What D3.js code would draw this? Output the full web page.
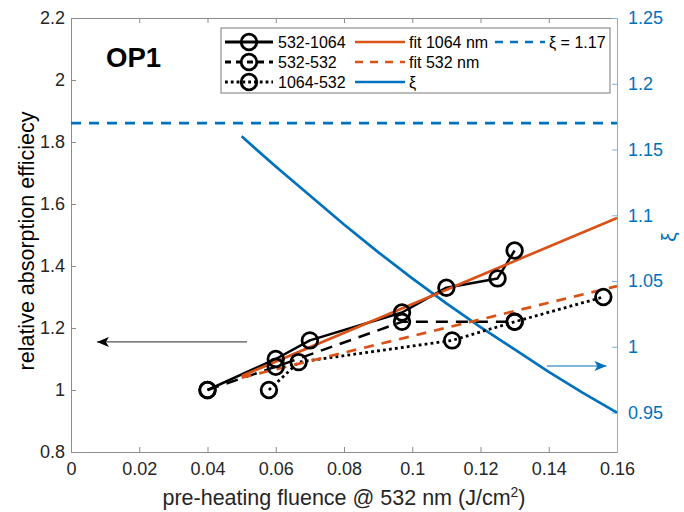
<!DOCTYPE html>
<html><head><meta charset="utf-8">
<script src="https://cdn.jsdelivr.net/npm/d3@7"></script>
<style>body{margin:0;background:#fff}svg{display:block;font-family:"Liberation Sans",Arial,sans-serif}</style>
</head><body><svg id="c" width="684" height="512"></svg>
<script>
// ---- data ----
const s1064x = [0.04, 0.06, 0.07, 0.097, 0.11, 0.125, 0.13];
const s1064y = [1.0, 1.1, 1.16, 1.25, 1.33, 1.36, 1.45];
const s532x = [0.04, 0.06, 0.097, 0.13];
const s532y = [1.0, 1.075, 1.22, 1.22];
const s1064_532x = [0.058, 0.0667, 0.1117, 0.13, 0.156];
const s1064_532y = [1.0, 1.09, 1.16, 1.22, 1.30];
const fit1064x = [0.05, 0.16];
const fit1064y = [1.045, 1.555];
const fit532x = [0.05, 0.16];
const fit532y = [1.04, 1.335];
const xiX = [0.05, 0.06, 0.07, 0.08, 0.09, 0.10, 0.11, 0.12, 0.13, 0.14, 0.15, 0.16];
const xiY = [1.160, 1.137, 1.115, 1.093, 1.072, 1.052, 1.033, 1.015, 0.998, 0.981, 0.965, 0.950];
const xiConstX = [0, 0.16];
const xiConstY = [1.17, 1.17];
const xTicks = [0, 0.02, 0.04, 0.06, 0.08, 0.1, 0.12, 0.14, 0.16];
const yLTicks = [0.8, 1, 1.2, 1.4, 1.6, 1.8, 2, 2.2];
const yRTicks = [0.95, 1, 1.05, 1.1, 1.15, 1.2, 1.25];
const legendLabels = ["532-1064", "532-532", "1064-532", "fit 1064 nm", "fit 532 nm", "ξ", "ξ = 1.17"];

// ---- layout ----
const L = 71, R = 617, T = 18, B = 452;
const black = "#000", orange = "#D95319", blue = "#0072BD", axc = "#262626";
const svg = d3.select("#c");
const x = d3.scaleLinear().domain([0, 0.16]).range([L, R]);
const yL = d3.scaleLinear().domain([0.8, 2.2]).range([B, T]);
const yR = d3.scaleLinear().domain([0.92, 1.25]).range([B, T]);
const fmt = d => String(+d.toFixed(3));

// axes
const gx = svg.append("g").attr("transform", `translate(0,${B})`)
  .call(d3.axisBottom(x).tickValues(xTicks).tickFormat(fmt).tickSizeInner(-5).tickSizeOuter(0).tickPadding(10));
const gxt = svg.append("g").attr("transform", `translate(0,${T})`)
  .call(d3.axisTop(x).tickValues(xTicks).tickFormat("").tickSizeInner(-5).tickSizeOuter(0));
const gyl = svg.append("g").attr("transform", `translate(${L},0)`)
  .call(d3.axisLeft(yL).tickValues(yLTicks).tickFormat(fmt).tickSizeInner(-5).tickSizeOuter(0).tickPadding(6));
const gyr = svg.append("g").attr("transform", `translate(${R},0)`)
  .call(d3.axisRight(yR).tickValues(yRTicks).tickFormat(fmt).tickSizeInner(-5).tickSizeOuter(0).tickPadding(11));
[gx, gxt, gyl].forEach(g => {
  g.select(".domain").attr("stroke", "#8c8c8c").attr("stroke-width", 1);
  g.selectAll(".tick line").attr("stroke", "#8c8c8c");
  g.selectAll("text").attr("fill", axc).style("font-size", "18px").style("font-family", "Liberation Sans, Arial, sans-serif");
});
gyr.select(".domain").attr("stroke", "#7ab4de").attr("stroke-width", 1);
gyr.selectAll(".tick line").attr("stroke", "#7ab4de");
gyr.selectAll("text").attr("fill", blue).style("font-size", "18px").style("font-family", "Liberation Sans, Arial, sans-serif");
gxt.selectAll(".tick:first-child line, .tick:last-child line").remove();
gx.selectAll(".tick:first-child line, .tick:last-child line").remove();

// labels
const xl = svg.append("text").attr("x", (L + R) / 2).attr("y", 505).attr("text-anchor", "middle")
  .style("font-size", "21.5px").attr("fill", axc);
xl.append("tspan").text("pre-heating fluence @ 532 nm (J/cm");
xl.append("tspan").attr("baseline-shift", "super").style("font-size", "14px").text("2");
xl.append("tspan").text(")");
svg.append("text").attr("transform", `translate(34,241) rotate(-90)`).attr("text-anchor", "middle")
  .style("font-size", "21.5px").attr("fill", "#000").text("relative absorption efficiecy");
svg.append("text").attr("transform", `translate(676,237) rotate(-90)`).attr("text-anchor", "middle")
  .style("font-size", "21px").attr("fill", blue).text("ξ");
svg.append("text").attr("x", 106).attr("y", 67).style("font-size", "27.5px").style("font-weight", "bold").text("OP1");

// lines
const lineL = d3.line().x(d => x(d[0])).y(d => yL(d[1]));
const lineR = d3.line().x(d => x(d[0])).y(d => yR(d[1]));
const zip = (a, b) => a.map((v, i) => [v, b[i]]);
const plot = svg.append("g");
function path(gen, data, color, w, dash) {
  plot.append("path").datum(data).attr("d", gen).attr("fill", "none").attr("stroke", color)
    .attr("stroke-width", w).attr("stroke-dasharray", dash || null).attr("stroke-linejoin", "round");
}
path(lineR, zip(xiConstX, xiConstY), blue, 2.7, "10,8");
path(lineR, zip(xiX, xiY), blue, 2.7);
path(lineL, zip(s1064x, s1064y), black, 2.5);
path(lineL, zip(s532x, s532y), black, 2.5, "12,8");
path(lineL, zip(s1064_532x, s1064_532y), black, 2.8, "2.8,3.2");
path(lineL, zip(fit1064x, fit1064y), orange, 2.7);
path(lineL, zip(fit532x, fit532y), orange, 2.7, "10,8");
[zip(s1064x, s1064y), zip(s532x, s532y), zip(s1064_532x, s1064_532y)].forEach(pts => {
  plot.selectAll(null).data(pts).enter().append("circle")
    .attr("cx", d => x(d[0])).attr("cy", d => yL(d[1])).attr("r", 7.8)
    .attr("fill", "none").attr("stroke", black).attr("stroke-width", 2.8);
});

// arrows
const defs = svg.append("defs");
function marker(id, color) {
  defs.append("marker").attr("id", id).attr("viewBox", "0 0 12 10").attr("refX", 12).attr("refY", 5)
    .attr("markerWidth", 12).attr("markerHeight", 10).attr("markerUnits", "userSpaceOnUse").attr("orient", "auto")
    .append("path").attr("d", "M0,0 L12,5 L0,10 L3,5 Z").attr("fill", color);
}
marker("ab", "#000"); marker("abl", blue);
svg.append("line").attr("x1", x(0.0516)).attr("x2", x(0.0076)).attr("y1", yL(1.155)).attr("y2", yL(1.155))
  .attr("stroke", "#555").attr("stroke-width", 1.2).attr("marker-end", "url(#ab)");
svg.append("line").attr("x1", x(0.1395)).attr("x2", x(0.1569)).attr("y1", yR(0.9854)).attr("y2", yR(0.9854))
  .attr("stroke", blue).attr("stroke-width", 1.2).attr("marker-end", "url(#abl)");

// legend
const lg = svg.append("g");
lg.append("rect").attr("x", 221).attr("y", 28).attr("width", 389).attr("height", 65)
  .attr("fill", "#fff").attr("stroke", "#7a7a7a").attr("stroke-width", 1);
const rows = [42, 62, 82];
const items = [
  {c: 0, r: 0, color: black, w: 2.8, dash: null, mk: true, t: legendLabels[0]},
  {c: 0, r: 1, color: black, w: 2.8, dash: "6,5", mk: true, t: legendLabels[1]},
  {c: 0, r: 2, color: black, w: 2.8, dash: "2.8,3", mk: true, t: legendLabels[2]},
  {c: 1, r: 0, color: orange, w: 2.7, dash: null, t: legendLabels[3]},
  {c: 1, r: 1, color: orange, w: 2.7, dash: "8,7", t: legendLabels[4]},
  {c: 1, r: 2, color: blue, w: 2.7, dash: null, t: legendLabels[5]},
  {c: 2, r: 0, color: blue, w: 2.7, dash: "8,7", t: legendLabels[6]}
];
const cols = [{x1: 225, x2: 273, tx: 278}, {x1: 355, x2: 405, tx: 409}, {x1: 495, x2: 545, tx: 549}];
items.forEach(it => {
  const c = cols[it.c], yy = rows[it.r];
  lg.append("line").attr("x1", c.x1).attr("x2", c.x2).attr("y1", yy).attr("y2", yy)
    .attr("stroke", it.color).attr("stroke-width", it.w).attr("stroke-dasharray", it.dash);
  if (it.mk) lg.append("circle").attr("cx", (c.x1 + c.x2) / 2).attr("cy", yy).attr("r", 7.8)
    .attr("fill", "none").attr("stroke", black).attr("stroke-width", 2.8);
  lg.append("text").attr("x", c.tx).attr("y", yy + 5.5).style("font-size", "16px").attr("fill", "#000").text(it.t);
});
</script></body></html>
